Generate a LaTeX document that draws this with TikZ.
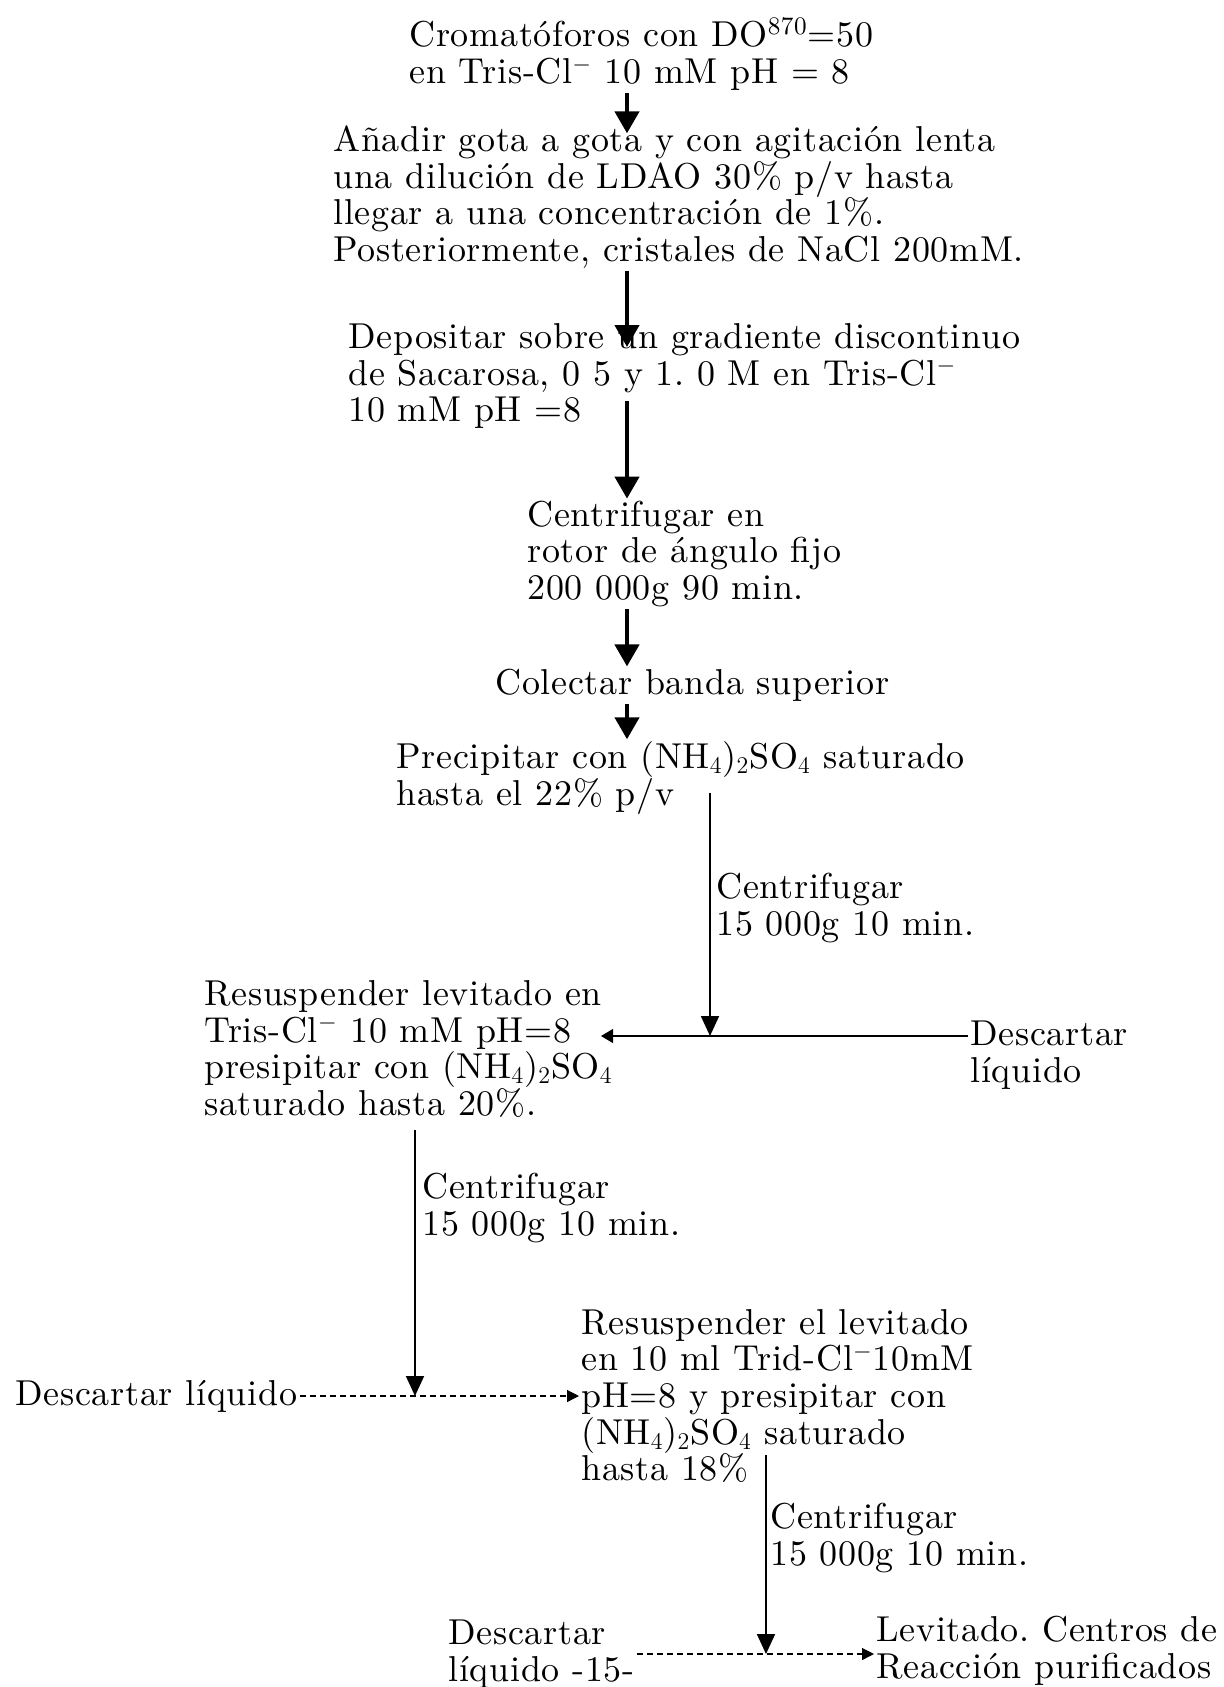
\documentclass[tikz,border=0pt]{standalone}
\usepackage{fontspec}
\setmainfont{lmroman10-regular.otf}[LetterSpace=2.0]
\usepackage{tikz}
\usetikzlibrary{arrows.meta}
\frenchspacing
\tikzstyle{stepbox} = [anchor=west, align=left, inner sep=1pt, font=\fontsize{18}{18.3}\selectfont]
\tikzstyle{bigarrow} = [line width=2.2pt, -{Triangle[width=12pt,length=11pt]}]
\tikzstyle{downarrow} = [line width=0.9pt, -{Triangle[width=9pt,length=10pt]}]
\tikzstyle{sidearrow} = [line width=0.6pt, -{Triangle[width=7pt,length=6pt]}]
\tikzstyle{dasharrow} = [line width=0.6pt, densely dashed, -{Triangle[width=6pt,length=6pt]}]

\begin{document}
\begin{tikzpicture}[x=0.5pt, y=-0.5pt]
    \useasboundingbox (0,0) rectangle (1223,1687);
    % main column
    \node (crom) [stepbox] at (407,54) {Cromatóforos con DO\textsuperscript{870}=50\\en Tris-Cl$^-$ 10 mM pH = 8};
    \node (anadir) [stepbox] at (331,197) {Añadir gota a gota y con agitación lenta\\una dilución de LDAO 30\% p/v hasta\\llegar a una concentración de 1\%.\\Posteriormente, cristales de NaCl 200mM.};
    \node (depos) [stepbox] at (346,376) {Depositar sobre un gradiente discontinuo\\de Sacarosa, 0 5 y 1. 0 M en Tris-Cl$^-$\\10 mM pH =8};
    \node (centrif) [stepbox] at (525,554) {Centrifugar en\\rotor de ángulo fijo\\200 000g 90 min.};
    \node (colect) [stepbox] at (493,685) {Colectar banda superior};
    \node (precip) [stepbox] at (394,778) {Precipitar con (NH$_4$)$_2$SO$_4$ saturado\\hasta el 22\% p/v};
    % centrifugation steps
    \node (lab1) [stepbox] at (714,908) {Centrifugar\\15 000g 10 min.};
    \node (desc1) [stepbox] at (968,1055) {Descartar\\líquido};
    \node (resus1) [stepbox] at (202,1049) {Resuspender levitado en\\Tris-Cl$^-$ 10 mM pH=8\\presipitar con (NH$_4$)$_2$SO$_4$\\saturado hasta 20\%.};
    \node (lab2) [stepbox] at (420,1208) {Centrifugar\\15 000g 10 min.};
    \node (desc2) [stepbox] at (13,1396) {Descartar líquido};
    \node (resus2) [stepbox] at (579,1396) {Resuspender el levitado\\en 10 ml Trid-Cl$^-$10mM\\pH=8 y presipitar con\\(NH$_4$)$_2$SO$_4$ saturado\\hasta 18\%};
    \node (lab3) [stepbox] at (768,1538) {Centrifugar\\15 000g 10 min.};
    \node (desc3) [stepbox] at (446,1654) {Descartar\\líquido -15-};
    \node (levit) [stepbox] at (874,1651) {Levitado. Centros de\\Reacción purificados};

    \coordinate (axis) at (627,0);
    \coordinate (j1) at (710,1036);
    \coordinate (j2) at (415,1396);
    \coordinate (j3) at (766,1654);

    \draw[bigarrow, shorten >=-5pt] (crom.south -| axis)--(anadir.north -| axis);
    \draw[bigarrow, shorten >=-13pt] (anadir.south -| axis)--(depos.north -| axis);
    \draw[bigarrow, shorten <=-15pt] (depos.south -| axis)--(centrif.north -| axis);
    \draw[bigarrow] (centrif.south -| axis)--(colect.north -| axis);
    \draw[bigarrow] (colect.south -| axis)--(precip.north -| axis);
    \draw[downarrow, shorten <=-12pt] (j1 |- precip.south)--(j1);
    \draw[sidearrow, shorten >=-7pt] (j1 -| desc1.west)--(j1 -| resus1.east);
    \draw[downarrow, shorten <=5pt] (j2 |- resus1.south)--(j2);
    \draw[dasharrow] (desc2.east)--(desc2.east -| resus2.west);
    \draw[downarrow, shorten <=-15pt] (j3 |- resus2.south)--(j3);
    \draw[dasharrow] (desc3.east)--(desc3.east -| levit.west);
\end{tikzpicture}
\end{document}
